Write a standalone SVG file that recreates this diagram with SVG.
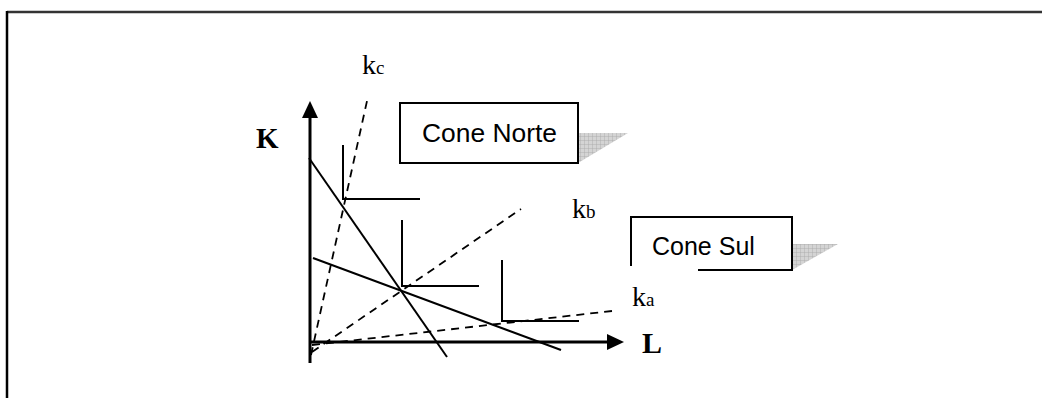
<svg xmlns="http://www.w3.org/2000/svg" width="1042" height="398" viewBox="0 0 1042 398">
<style>
.ax{stroke:#000;stroke-width:3;fill:none}
.sl{stroke:#000;stroke-width:2;fill:none}
.ds{stroke:#000;stroke-width:1.8;fill:none;stroke-dasharray:8 6}
.bx{fill:#fff;stroke:#000;stroke-width:2}
.lbl{font-family:"Liberation Sans",Arial,sans-serif;font-size:25px;fill:#000}
.k{font-family:"Liberation Serif","Times New Roman",serif;font-size:28px;fill:#000}
.sub{font-size:19px}
.ax-l{font-family:"Liberation Serif","Times New Roman",serif;font-weight:bold;fill:#000}
</style>
<defs>
<pattern id="grid" width="4" height="4" patternUnits="userSpaceOnUse">
<rect width="4" height="4" fill="#d4d4d4"/>
<path d="M0 0H4M0 0V4" stroke="#a8a8a8" stroke-width="0.8"/>
</pattern>
</defs>
<rect width="1042" height="398" fill="#fff"/>
<g id="frame">
<line x1="7" y1="12" x2="1042" y2="12" stroke="#333" stroke-width="2.5"/>
<line x1="7" y1="11" x2="7" y2="398" stroke="#000" stroke-width="2.5"/>
</g>
<g id="connectors">
<!-- axes -->
<line class="ax" x1="310" y1="116" x2="310" y2="363"/>
<polygon points="310,101 302,118 318,118" fill="#000"/>
<line class="ax" x1="309" y1="342" x2="609" y2="342"/>
<polygon points="624,342 607,334 607,350" fill="#000"/>
<!-- rays -->
<line class="ds" x1="311" y1="355" x2="367" y2="101"/>
<line class="ds" x1="312" y1="352" x2="521" y2="209"/>
<line class="ds" x1="312" y1="345" x2="612" y2="311"/>
<!-- isocost lines -->
<line class="sl" x1="309" y1="158" x2="447" y2="357"/>
<line class="sl" x1="313" y1="258" x2="561" y2="350"/>
<!-- isoquants -->
<polyline class="sl" points="343,145 343,199 420,199"/>
<polyline class="sl" points="402,220 402,286 479,286"/>
<polyline class="sl" points="502,260 502,321 579,321"/>
</g>
<g id="node-cone-norte">
<polygon points="578,133 628,133 578,163" fill="url(#grid)"/>
<rect class="bx" x="400" y="103" width="178" height="60"/>
<text class="lbl" x="422" y="142" textLength="135" lengthAdjust="spacingAndGlyphs">Cone Norte</text>
</g>
<g id="node-cone-sul">
<polygon points="792,244 838,244 792,270" fill="url(#grid)"/>
<polyline class="sl" points="631,266 631,217 792,217 792,270 698,270"/>
<text class="lbl" x="652" y="255">Cone Sul</text>
</g>
<g id="labels">
<text class="ax-l" x="256" y="148" font-size="29">K</text>
<text class="ax-l" x="642" y="353" font-size="30">L</text>
<text class="k" x="362" y="74">k<tspan class="sub">c</tspan></text>
<text class="k" x="572" y="218">k<tspan class="sub">b</tspan></text>
<text class="k" x="632" y="306">k<tspan class="sub">a</tspan></text>
</g>
</svg>
